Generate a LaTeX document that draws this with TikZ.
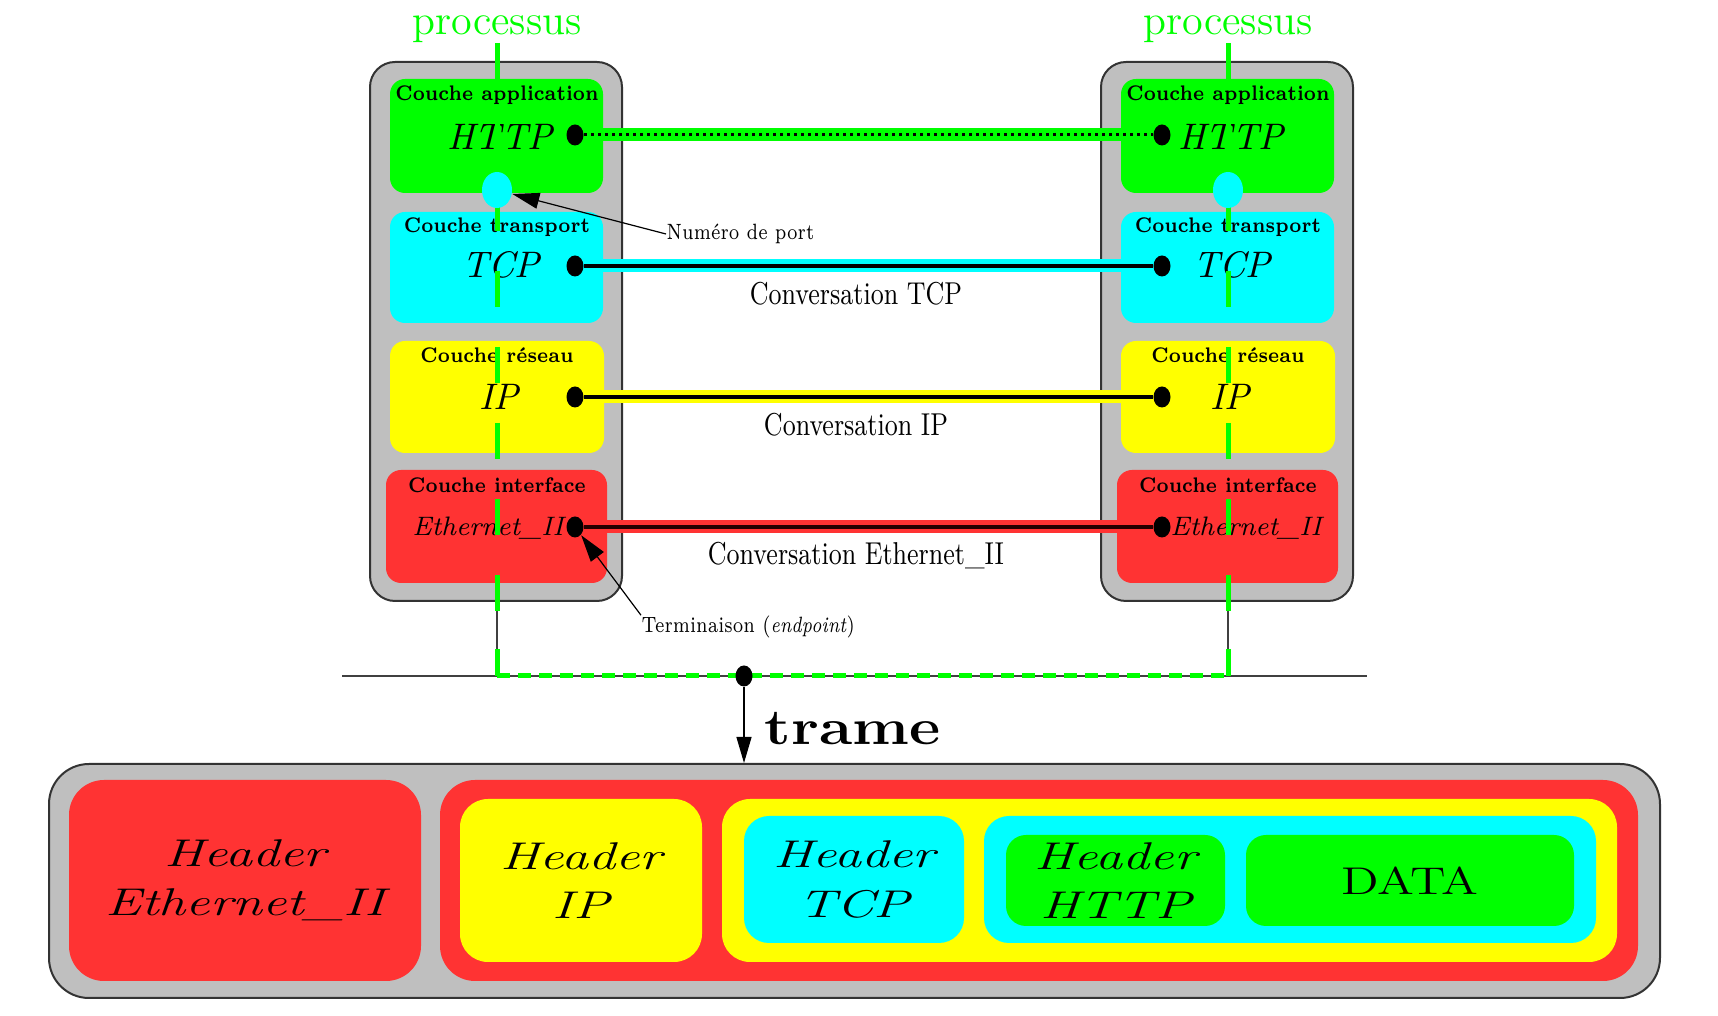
\documentclass[tikz,border=0pt]{standalone}
\usetikzlibrary{arrows.meta,shapes.geometric}
\definecolor{vert}{RGB}{0,255,0}
\definecolor{cyanc}{RGB}{0,255,255}
\definecolor{jaune}{RGB}{255,255,0}
\definecolor{rouge}{RGB}{255,51,51}
\definecolor{gris}{RGB}{191,191,191}
\newcommand{\etire}[2][1.4]{\scalebox{#1}[1]{#2}}
\begin{document}
\begin{tikzpicture}[x=0.1mm,y=-0.1mm,
	couche/.style={font=\fontsize{6}{7}\selectfont\bfseries, inner sep=0, anchor=base},
	proto/.style={font=\fontsize{10.5}{12}\selectfont\itshape, inner sep=0, anchor=base},
	bout/.style={ellipse, fill=black, inner sep=0, minimum width=1.7mm, minimum height=2.1mm},
	etiq/.style={font=\fontsize{6.3}{7}\selectfont, inner sep=0},
	conv/.style={font=\fontsize{9}{10}\selectfont, inner sep=0},
	fleche/.style={-{Triangle[length=2.7mm,width=1.6mm]}, line width=0.12mm},
	chemin/.style={vert, line width=0.5mm},
	bande/.style={line width=1.3mm},
	boite/.style={inner sep=0, rounded corners=#1},
	hdr/.style={font=\fontsize{11}{14}\selectfont\itshape, align=center}]

	\useasboundingbox (0,0) rectangle (1718,1016);

	\foreach \s/\dx/\px/\ex in {L/0/575/488, R/731/1162/1246} {
		\filldraw[fill=gris, draw=black!80, line width=0.2mm, rounded corners=2.5mm] (\dx+370,62) rectangle (\dx+622,601);
		\fill[vert, rounded corners=1.5mm] (\dx+390,79) rectangle (\dx+603,193);
		\fill[cyanc, rounded corners=1.5mm] (\dx+390,212) rectangle (\dx+603,323);
		\fill[jaune, rounded corners=1.5mm] (\dx+390,341) rectangle (\dx+604,453);
		\fill[rouge, rounded corners=1.5mm] (\dx+386,470) rectangle (\dx+607,583);

		\node[couche] (ca\s) at (\dx+497,101) {\etire[0.83]{Couche application}};
		\node[proto] (http\s) at (\dx+500,150) {HTTP};
		\node[couche] (ct\s) at (\dx+497,233) {\etire[0.83]{Couche transport}};
		\node[proto] (tcp\s) at (\dx+501,278) {TCP};
		\node[couche] (cr\s) at (\dx+497,363) {\etire[0.83]{Couche réseau}};
		\node[proto] (ip\s) at (\dx+499,410) {IP};
		\node[couche] (ci\s) at (\dx+497,493) {\etire[0.83]{Couche interface}};
		\node[proto, font=\fontsize{7.6}{9}\selectfont\itshape] (eth\s) at (\ex,536) {Ethernet\_II};

		\node[bout] (h\s) at (\px,135) {};
		\node[bout] (t\s) at (\px,266) {};
		\node[bout] (i\s) at (\px,397) {};
		\node[bout] (e\s) at (\px,527) {};

		\node[font=\fontsize{12}{14}\selectfont, text=vert, anchor=south, inner sep=0] (p\s) at (\dx+497,43) {processus};
		\coordinate (b\s) at (\dx+497,611);
		\draw[chemin, dash pattern=on 3.6mm off 4mm] (p\s.south) -- (b\s);
		\node[ellipse, fill=cyanc, inner sep=0, minimum width=3mm, minimum height=3.6mm] (port\s) at (\dx+497,190) {};
	}

	\draw[bande, vert] (hL) -- (hR);
	\draw[black, line width=0.3mm, dash pattern=on 0.3mm off 0.4mm] (hL) -- (hR);
	\draw[bande, cyanc] (tL) -- (tR);
	\draw[black, line width=0.35mm] (tL) -- (tR);
	\draw[bande, jaune] (iL) -- (iR);
	\draw[black, line width=0.35mm] (iL) -- (iR);
	\draw[bande, rouge] (eL) -- (eR);
	\draw[black!85!red, line width=0.35mm] (eL) -- (eR);

	\node[conv] (cTcp) at (856,294) {\etire[0.8]{Conversation TCP}};
	\node[conv] (cIp) at (856,425) {\etire[0.8]{Conversation IP}};
	\node[conv] (cEth) at (856,556) {\etire[0.8]{Conversation Ethernet\_II}};

	\node[etiq, anchor=west] (num) at (666,234) {\etire[0.78]{Numéro de port}};
	\draw[fleche] (num.west) -- (portL);
	\node[etiq, anchor=west] (term) at (641,627) {\etire[0.78]{Terminaison (\textit{endpoint})}};
	\draw[fleche] (term.north west) -- (eL);

	% reseau
	\coordinate (rg) at (342,676);
	\coordinate (rd) at (1367,676);
	\draw[black!75, line width=0.25mm] (rg) -- (rd);
	\foreach \s/\dx in {L/0, R/731} {
		\coordinate (n\s) at (\dx+497,676);
		\coordinate (v\s) at (\dx+497,649);
		\draw[black!75, line width=0.15mm] (b\s) -- (n\s);
		\draw[chemin] (v\s) -- (n\s);
	}
	\draw[chemin, dash pattern=on 1.3mm off 0.8mm] (nL) -- (nR);

	% trame
	\node[draw=black!80, fill=gris, line width=0.2mm, boite=4mm, minimum width=161.1mm, minimum height=23.4mm] (cadre) at (854.5,881) {};
	\node[bout] (tr) at (744,676) {};
	\draw[-{Triangle[length=2.6mm,width=1.5mm]}, line width=0.12mm] (tr) -- (tr |- cadre.north);
	\node[font=\Large\bfseries, anchor=west, inner sep=0] (lt) at (764,729) {\etire[1.2]{trame}};

	\node[hdr, fill=rouge, boite=3.5mm, minimum width=35.2mm, minimum height=20.1mm] (hEth) at (245,880.5) {\etire{Header}\\\etire{Ethernet\_II}};
	\node[fill=rouge, boite=3.5mm, minimum width=119.8mm, minimum height=20.1mm] (pEth) at (1039,880.5) {};
	\node[hdr, fill=jaune, boite=2.8mm, minimum width=24.2mm, minimum height=16.3mm] (hIp) at (581,880.5) {\etire{Header}\\\etire{IP}};
	\node[fill=jaune, boite=2.8mm, minimum width=89.5mm, minimum height=16.3mm] (pIp) at (1169.5,880.5) {};
	\node[hdr, fill=cyanc, boite=2.5mm, minimum width=22mm, minimum height=12.7mm] (hTcp) at (854,879.5) {\etire{Header}\\\etire{TCP}};
	\node[fill=cyanc, boite=2.5mm, minimum width=61.2mm, minimum height=12.7mm] (pTcp) at (1290,879.5) {};
	\node[hdr, fill=vert, boite=2mm, minimum width=21.9mm, minimum height=9.1mm] (hHttp) at (1115.5,880.5) {\etire{Header}\\\etire{HTTP}};
	\node[fill=vert, boite=2mm, minimum width=32.8mm, minimum height=9.1mm, font=\fontsize{11}{14}\selectfont] (data) at (1410,880.5) {\etire[1.3]{DATA}};
\end{tikzpicture}
\end{document}
